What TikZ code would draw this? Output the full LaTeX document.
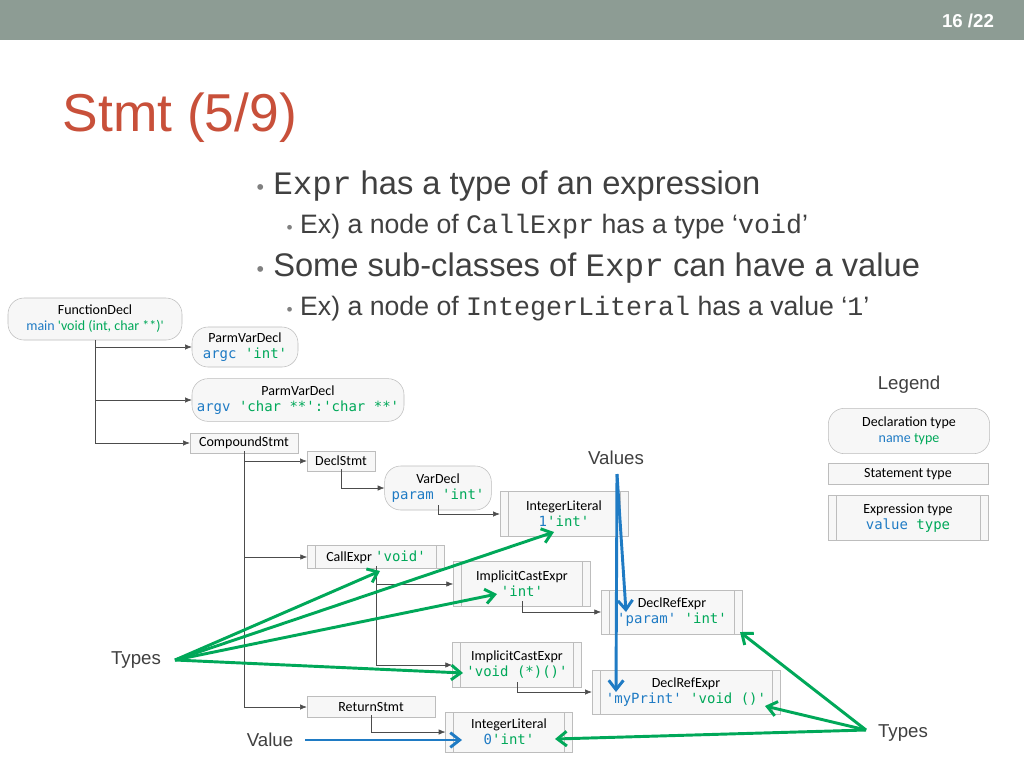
\documentclass[tikz,border=0pt]{standalone}
\usepackage{fontspec}
\setmainfont{Liberation Sans}
\newfontfamily\calfnt{Carlito}
\newfontfamily\monfnt{Liberation Mono}
\newfontfamily\cmonfnt{DejaVu Sans Mono}
\usetikzlibrary{arrows.meta}
\definecolor{cb}{HTML}{1F7BC4}
\definecolor{cg}{HTML}{00A859}
\definecolor{tx}{HTML}{404040}
\definecolor{hd}{HTML}{8D9C94}
\definecolor{ttl}{HTML}{C8503A}
\definecolor{bd}{HTML}{BDBDBD}
\begin{document}
\begin{tikzpicture}[x=0.75pt,y=-0.75pt,
  base/.style={draw=bd,fill=gray!6,font=\calfnt\fontsize{10.5}{12}\selectfont,align=center,inner sep=1pt,anchor=center},
  decl/.style={base,rounded corners=12pt},
  stmt/.style={base},
  expr/.style={base,path picture={
     \draw[bd] ([xshift=6pt]path picture bounding box.north west) -- ([xshift=6pt]path picture bounding box.south west);
     \draw[bd] ([xshift=-6pt]path picture bounding box.north east) -- ([xshift=-6pt]path picture bounding box.south east);}},
  tree/.style={draw=black!70,-{Latex[length=5pt,width=4pt]}},
  ga/.style={draw=cg,line width=2.2pt,-{Straight Barb[length=7pt,width=11pt]}},
  ba/.style={draw=cb,line width=2.2pt,-{Straight Barb[length=7pt,width=11pt]}},
  lbl/.style={font=\fontsize{14}{16}\selectfont,text=tx}]
\useasboundingbox (0,0) rectangle (1024,768);
\fill[white] (0,0) rectangle (1024,768);
\fill[hd] (0,0) rectangle (1024,40);
\node[text=white,font=\bfseries\fontsize{14}{16}\selectfont] (pg) at (968,21) {16 /22};
\node[anchor=west,text=ttl,font=\fontsize{40}{44}\selectfont] (title) at (58,118) {Stmt (5/9)};
% bullets
\node[anchor=west,text=tx,font=\fontsize{24.5}{28}\selectfont] (b1) at (252,186) {{\fontsize{16}{16}\selectfont\color{gray}•} {\monfnt Expr} has a type of an expression};
\node[anchor=west,text=tx,font=\fontsize{20}{24}\selectfont] (b2) at (282,227) {{\fontsize{13}{13}\selectfont\color{gray}•} Ex) a node of {\monfnt CallExpr} has a type ‘{\monfnt void}’};
\node[anchor=west,text=tx,font=\fontsize{24.5}{28}\selectfont] (b3) at (252,268) {{\fontsize{16}{16}\selectfont\color{gray}•} Some sub-classes of {\monfnt Expr} can have a value};
\node[anchor=west,text=tx,font=\fontsize{20}{24}\selectfont] (b4) at (282,309) {{\fontsize{13}{13}\selectfont\color{gray}•} Ex) a node of {\monfnt IntegerLiteral} has a value ‘{\monfnt 1}’};
% nodes
\node[decl,minimum width=130.5pt,minimum height=31.5pt] (fd) at (95,319) {FunctionDecl\\{\color{cb}main} {\color{cg}'void (int, char **)'}};
\node[decl,minimum width=79.5pt,minimum height=30pt] (p1) at (245,347) {ParmVarDecl\\{\cmonfnt\color{cb}argc \color{cg}'int'}};
\node[decl,minimum width=159pt,minimum height=32pt] (p2) at (298,400) {ParmVarDecl\\{\cmonfnt\color{cb}argv \color{cg}'char **':'char **'}};
\node[stmt,minimum width=81pt,minimum height=15pt] (cs) at (244,443) {CompoundStmt};
\node[stmt,minimum width=51pt,minimum height=15pt] (ds) at (341,461) {DeclStmt};
\node[decl,minimum width=80pt,minimum height=33pt] (vd) at (438,488) {VarDecl\\{\cmonfnt\color{cb}param \color{cg}'int'}};
\node[expr,minimum width=96pt,minimum height=34pt] (il1) at (564,514) {IntegerLiteral\\{\cmonfnt\color{cb}1\color{cg}'int'}};
\node[expr,minimum width=103pt,minimum height=17pt] (ce) at (376,557) {CallExpr {\cmonfnt\color{cg}'void'}};
\node[expr,minimum width=103pt,minimum height=34pt] (ic1) at (522,584) {ImplicitCastExpr\\{\cmonfnt\color{cg}'int'}};
\node[expr,minimum width=106pt,minimum height=33pt] (dr1) at (672,612) {DeclRefExpr\\{\cmonfnt\color{cb}'param' \color{cg}'int'}};
\node[expr,minimum width=97pt,minimum height=34pt] (ic2) at (517,665) {ImplicitCastExpr\\{\cmonfnt\color{cg}'void (*)()'}};
\node[expr,minimum width=141pt,minimum height=33pt] (dr2) at (686,692) {DeclRefExpr\\{\cmonfnt\color{cb}'myPrint' \color{cg}'void ()'}};
\node[stmt,minimum width=96pt,minimum height=16pt] (rs) at (371,707) {ReturnStmt};
\node[expr,minimum width=95pt,minimum height=30pt] (il0) at (509,732) {IntegerLiteral\\{\cmonfnt\color{cb}0\color{cg}'int'}};
% legend
\node[lbl] (lg) at (909,385) {Legend};
\node[decl,minimum width=121pt,minimum height=34pt] (l1) at (909,431) {Declaration type\\{\color{cb}name} {\color{cg}type}};
\node[stmt,minimum width=120pt,minimum height=16pt] (l2) at (908,474) {Statement type};
\node[expr,minimum width=120pt,minimum height=34pt] (l3) at (908,518) {Expression type\\{\cmonfnt\color{cb}value \color{cg}type}};
% tree connectors
\coordinate (t0) at (95,340);
\draw[tree] (t0) |- (p1.west);
\draw[tree] (t0) |- (p2.west);
\draw[tree] (t0) |- (cs.west);
\coordinate (t1) at (244,451);
\draw[tree] (t1) |- (ds.west);
\draw[tree] (t1) |- (ce.west);
\draw[tree] (t1) |- (rs.west);
\coordinate (t2) at (341,469);
\draw[tree] (t2) |- (vd.west);
\coordinate (t3) at (438,505);
\draw[tree] (t3) |- (il1.west);
\coordinate (t4) at (376,566);
\draw[tree] (t4) |- (ic1.west);
\draw[tree] (t4) |- (ic2.west);
\coordinate (t5) at (522,601);
\draw[tree] (t5) |- (dr1.west);
\coordinate (t6) at (517,682);
\draw[tree] (t6) |- (dr2.west);
\coordinate (t7) at (371,715);
\draw[tree] (t7) |- (il0.west);
% labels
\node[lbl] (vals) at (616,458) {Values};
\node[lbl] (ty1) at (136,660) {Types};
\node[lbl] (val) at (270,740) {Value};
\node[lbl] (ty2) at (903,733) {Types};
% annotation arrows
\coordinate (ty1e) at (175,660);
\coordinate (ty2e) at (866,730);
\coordinate (g1) at (380,571);
\coordinate (g2) at (554,532);
\coordinate (g3) at (497,594);
\coordinate (g4) at (463,673);
\coordinate (g5) at (740,632);
\coordinate (g6) at (765,706);
\coordinate (g7) at (555,739);
\foreach \g in {g1,g2,g3,g4} \draw[ga] (ty1e) -- (\g);
\foreach \g in {g5,g6,g7} \draw[ga] (ty2e) -- (\g);
\coordinate (vs) at (617,474);
\coordinate (b1e) at (626,612);
\coordinate (b2e) at (616,692);
\draw[ba] (vs) -- (b1e);
\draw[ba] (vs) -- (b2e);
\coordinate (vle) at (305,740);
\coordinate (vlt) at (462,740);
\draw[ba] (vle) -- (vlt);
\end{tikzpicture}
\end{document}
